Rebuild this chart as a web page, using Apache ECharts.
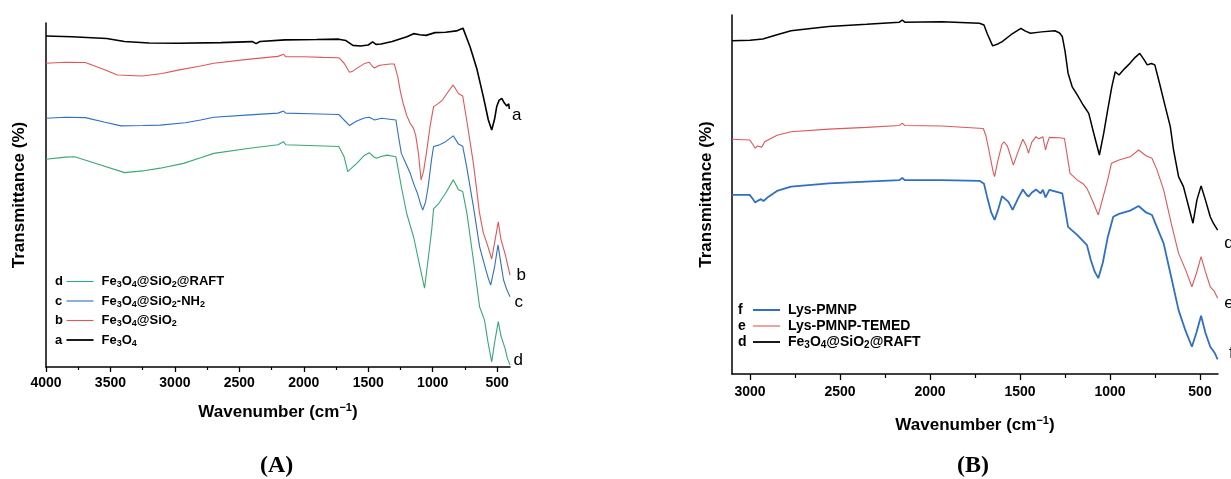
<!DOCTYPE html>
<html>
<head>
<meta charset="utf-8">
<script src="https://cdn.jsdelivr.net/npm/echarts@6/dist/echarts.min.js"></script>
<style>
html,body{margin:0;padding:0;background:#fff;}
#chart{width:1231px;height:479px;}
</style>
</head>
<body>
<div id="chart"></div>
<script>
// ---------- Panel A data (wavenumber cm-1, relative transmittance) ----------
const A_a_wn = [4000,3800,3529,3391,3200,2975,2643,2400,2370,2340,2145,1900,1729,1673,1619,1560,1500,1466,1440,1400,1314,1200,1148,1100,1051,982,900,816,765,710,658,607,568,542,520,503,485,464,445,425,410,405];
const A_a_t  = [96.2,96.0,95.5,94.6,94.2,94.1,94.3,94.6,94.0,94.6,95.1,95.2,95.3,94.9,93.5,93.3,93.6,94.5,93.8,93.9,94.6,96.0,96.9,96.6,96.4,97.2,97.3,97.7,98.5,93.1,86.8,78.6,71.8,68.9,72.0,75.7,77.5,78.1,76.8,75.9,76.5,75.0];

const A_b_wn = [4000,3850,3695,3550,3446,3252,3100,2975,2800,2698,2420,2200,2157,2140,2005,1850,1728,1687,1645,1620,1589,1530,1492,1470,1451,1420,1395,1330,1298,1271,1250,1229,1200,1174,1150,1132,1110,1090,1070,1049,1020,993,960,924,880,841,800,767,736,684,660,638,607,575,542,520,491,470,439,420,400];
const A_b_t  = [88.3,88.6,88.5,86.5,84.9,84.6,85.3,86.3,87.5,88.3,89.5,90.3,90.9,90.2,90.2,90.0,89.9,88.3,85.7,86.0,86.8,88.2,88.6,87.5,86.9,87.6,87.8,88.1,88.1,84.4,80.0,76.6,73.0,70.8,69.5,67.4,62.0,54.4,57.0,62.1,70.0,75.7,76.5,77.6,80.0,82.0,79.5,78.8,71.8,59.2,52.0,45.1,39.0,35.5,31.4,36.0,42.2,37.0,33.0,30.0,26.7];

const A_c_wn = [4000,3850,3695,3550,3418,3250,3114,2920,2800,2698,2420,2200,2157,2140,1950,1728,1687,1645,1620,1589,1530,1492,1470,1451,1420,1395,1285,1265,1243,1200,1174,1140,1118,1095,1077,1055,1035,1010,993,952,900,840,800,767,736,684,636,598,570,550,520,493,470,450,425,400];
const A_c_t  = [72.3,72.6,72.5,71.2,70.1,70.2,70.3,71.0,71.8,72.6,73.3,73.8,74.4,73.8,73.6,73.4,71.8,70.2,70.8,71.5,72.4,72.6,72.2,71.8,72.1,72.3,71.8,67.0,62.1,58.5,56.3,52.5,50.5,47.5,45.6,48.0,52.4,60.0,64.1,64.5,65.5,67.2,64.8,64.2,58.2,46.6,35.0,29.7,26.0,23.8,29.0,35.5,30.0,25.3,22.5,20.4];

const A_d_wn = [4000,3850,3778,3600,3390,3250,3114,2933,2800,2698,2420,2200,2157,2140,1900,1728,1687,1659,1630,1589,1530,1492,1460,1437,1400,1354,1285,1265,1243,1202,1146,1105,1063,1021,1007,993,952,900,840,800,767,736,684,636,598,570,542,520,491,470,439,420,400];
const A_d_t  = [60.4,61.0,61.1,59.0,56.5,57.0,57.8,59.2,60.8,62.1,63.6,64.6,65.5,64.6,64.3,64.1,61.1,56.8,57.8,59.2,61.5,62.3,61.2,60.7,61.2,61.6,61.1,57.0,52.4,44.7,37.5,30.2,22.9,35.6,40.0,46.0,47.6,50.5,54.4,51.5,51.0,45.1,31.1,17.5,13.7,7.0,1.5,7.0,13.2,9.0,5.5,2.5,0.6];

// ---------- Panel B data ----------
const B_d_wn = [3100,3000,2929,2850,2772,2650,2562,2353,2170,2154,2140,1934,1725,1700,1683,1652,1620,1599,1550,1495,1470,1442,1380,1306,1280,1265,1250,1233,1210,1181,1150,1118,1090,1059,1035,1013,990,971,950,920,888,860,835,810,793,770,751,720,702,665,647,619,592,563,539,517,494,470,443,426,402];
const B_d_t  = [92.8,93.0,93.3,94.5,95.6,96.3,96.8,97.4,98.0,98.6,98.0,98.1,97.7,97.2,94.9,91.4,92.0,92.6,94.5,96.3,95.5,94.9,95.3,95.6,95.0,94.0,90.0,83.8,80.0,77.7,75.0,72.6,67.0,61.0,67.0,73.5,80.0,84.2,83.3,85.0,86.6,88.2,89.3,87.5,86.1,86.5,86.1,80.0,76.3,68.9,62.4,55.0,52.2,46.6,42.0,48.5,52.4,48.5,43.8,42.0,40.1];

const B_e_wn = [3100,3002,2985,2971,2960,2950,2935,2918,2850,2772,2562,2353,2170,2154,2140,1934,1704,1690,1673,1650,1641,1625,1600,1589,1570,1537,1510,1484,1465,1453,1435,1411,1395,1386,1373,1365,1358,1350,1337,1280,1253,1235,1222,1181,1150,1128,1095,1065,1040,1013,992,950,888,841,800,767,740,702,660,619,580,545,520,494,470,443,420,402];
const B_e_t  = [65.4,65.2,64.0,62.9,63.5,63.8,63.2,64.7,66.5,67.5,68.2,68.7,69.2,69.9,69.2,69.1,68.4,66.5,62.4,56.5,55.0,59.0,64.0,64.7,63.5,58.2,62.0,65.4,63.5,61.5,64.5,66.1,65.5,65.2,66.1,64.0,62.4,64.0,65.9,65.8,65.6,60.0,55.9,54.0,53.0,51.7,48.0,44.3,49.0,54.0,58.7,59.6,60.5,62.4,60.8,60.1,57.0,51.3,42.0,33.6,29.0,24.3,28.0,32.7,28.5,24.3,23.0,21.1];

const B_f_wn = [3100,3002,2985,2971,2955,2939,2925,2897,2850,2772,2562,2353,2170,2154,2140,1934,1725,1700,1683,1660,1641,1620,1600,1589,1565,1541,1510,1484,1465,1453,1435,1411,1386,1373,1358,1337,1265,1250,1233,1181,1128,1107,1085,1065,1040,1013,982,950,888,841,800,767,740,702,660,619,580,545,520,494,470,443,420,402];
const B_f_t  = [49.9,49.9,48.8,47.8,48.3,48.7,48.2,49.4,51.0,52.2,53.1,53.6,54.0,54.6,54.0,54.0,53.8,53.0,49.4,45.0,42.9,46.0,49.5,49.9,48.0,45.7,49.0,51.4,50.0,49.4,50.5,51.4,50.3,51.3,49.2,51.3,50.3,46.0,41.0,38.7,35.9,31.8,28.5,26.7,31.0,38.0,43.8,44.6,45.5,46.8,45.0,44.3,41.0,36.4,27.0,17.8,12.0,7.6,11.5,16.2,11.5,7.6,6.0,4.1];

// ---------- tick values ----------
const ticksA = [4000,3500,3000,2500,2000,1500,1000,500];
const minorA = [3750,3250,2750,2250,1750,1250,750];
const ticksB = [3000,2500,2000,1500,1000,500];
const minorB = [2750,2250,1750,1250,750];

// ---------- legend labels ----------
const legendA = [
  {key:'A_d', letter:'d', label:'{n|Fe}{s|3}{n|O}{s|4}{n|@SiO}{s|2}{n|@RAFT}'},
  {key:'A_c', letter:'c', label:'{n|Fe}{s|3}{n|O}{s|4}{n|@SiO}{s|2}{n|-NH}{s|2}'},
  {key:'A_b', letter:'b', label:'{n|Fe}{s|3}{n|O}{s|4}{n|@SiO}{s|2}'},
  {key:'A_a', letter:'a', label:'{n|Fe}{s|3}{n|O}{s|4}'}
];
const legendB = [
  {key:'B_f', letter:'f', label:'{n|Lys-PMNP}'},
  {key:'B_e', letter:'e', label:'{n|Lys-PMNP-TEMED}'},
  {key:'B_d', letter:'d', label:'{n|Fe}{s|3}{n|O}{s|4}{n|@SiO}{s|2}{n|@RAFT}'}
];

const zip = (x, y) => x.map((v, i) => [v, y[i]]);
const FONT = 'Liberation Sans, Arial, sans-serif';

const chart = echarts.init(document.getElementById('chart'), null, {renderer: 'canvas'});

function xMain(grid, min, max, ticks, gap, margin, tickLen) {
  return {
    type: 'value', gridIndex: grid, min: min, max: max, inverse: true, position: 'bottom',
    axisLine: {show: true, onZero: false, lineStyle: {color: '#000', width: 1.5}},
    axisTick: {show: true, customValues: ticks, length: tickLen, lineStyle: {color: '#000', width: 1.3}},
    axisLabel: {show: true, customValues: ticks, formatter: (v) => String(v), color: '#000', fontWeight: 'bold', fontSize: 14, fontFamily: FONT, margin: margin},
    splitLine: {show: false},
    name: '{t|Wavenumber (cm}{p|\u22121}{t|)}',
    nameLocation: 'middle', nameGap: gap,
    nameTextStyle: {
      color: '#000', fontFamily: FONT, fontWeight: 'bold', fontSize: 17,
      rich: {
        t: {fontSize: 17, fontWeight: 'bold', fontFamily: FONT, color: '#000', lineHeight: 20},
        p: {fontSize: 11, fontWeight: 'bold', fontFamily: FONT, color: '#000', verticalAlign: 'top'}
      }
    }
  };
}
function xMinor(grid, min, max, ticks, tickLen) {
  return {
    type: 'value', gridIndex: grid, min: min, max: max, inverse: true, position: 'bottom',
    axisLine: {show: false, onZero: false},
    axisTick: {show: true, customValues: ticks, length: tickLen, lineStyle: {color: '#000', width: 1.2}},
    axisLabel: {show: false},
    splitLine: {show: false}
  };
}
function yAx(grid, gap) {
  return {
    type: 'value', gridIndex: grid, min: 0, max: 100, position: 'left',
    axisLine: {show: true, onZero: false, lineStyle: {color: '#000', width: 1.5}},
    axisTick: {show: false}, axisLabel: {show: false}, splitLine: {show: false},
    name: 'Transmittance (%)', nameLocation: 'middle', nameGap: gap, nameRotate: 90,
    nameTextStyle: {color: '#000', fontFamily: FONT, fontWeight: 'bold', fontSize: 17}
  };
}
function ser(name, xi, yi, data, color, width, endText, off) {
  return {
    name: name, type: 'line', xAxisIndex: xi, yAxisIndex: yi, data: data,
    symbol: 'none', showSymbol: false, animation: false,
    lineStyle: {color: color, width: width}, itemStyle: {color: color},
    clip: false,
    endLabel: {show: true, formatter: endText, color: '#000', fontFamily: FONT, fontSize: 17, distance: 4, offset: off}
  };
}

const RED = '#e0575a', BLUE = '#2f6fc4', GREEN = '#3aa874', BLACK = '#000';

const richLegend = (size) => ({
  n: {fontSize: size, fontWeight: 'bold', fontFamily: FONT, color: '#000', lineHeight: 16},
  s: {fontSize: size - 4, fontWeight: 'bold', fontFamily: FONT, color: '#000', verticalAlign: 'bottom'}
});
function legendItem(item, left, centerY, size, lineH) {
  return {
    data: [item.key], left: left, top: centerY - 8, padding: 0, itemWidth: 27, itemHeight: lineH,
    icon: 'rect',
    formatter: () => item.label,
    selectedMode: false,
    textStyle: {fontSize: size, fontWeight: 'bold', fontFamily: FONT, color: '#000', padding: [0, 0, 0, 3], rich: richLegend(size)}
  };
}
const rowsA = [283, 302.5, 322, 341.5];
const rowsB = [311, 327, 343];
const lineHA = [1.1, 1.1, 1.1, 1.8];
const lineHB = [2, 1.1, 1.8];
const legends = [];
const letters = [];
legendA.forEach((it, i) => {
  legends.push(legendItem(it, 66.5, rowsA[i], 13, lineHA[i]));
  letters.push({type: 'text', left: 55, top: rowsA[i] - 8, style: {text: it.letter, font: 'bold 13px ' + FONT, fill: '#000'}});
});
legendB.forEach((it, i) => {
  legends.push(legendItem(it, 753, rowsB[i], 14, lineHB[i]));
  letters.push({type: 'text', left: 738, top: rowsB[i] - 8, style: {text: it.letter, font: 'bold 14px ' + FONT, fill: '#000'}});
});

const option = {
  animation: false,
  backgroundColor: '#fff',
  grid: [
    {left: 46, top: 23, width: 464, height: 344},
    {left: 732, top: 15, width: 486, height: 359}
  ],
  xAxis: [
    xMain(0, 400, 4000, ticksA, 35, 9, 5),
    xMinor(0, 400, 4000, minorA, 3),
    xMain(1, 400, 3100, ticksB, 41, 11, 6),
    xMinor(1, 400, 3100, minorB, 4)
  ],
  yAxis: [yAx(0, 18), yAx(1, 17)],
  legend: legends,
  series: [
    ser('A_a', 0, 0, zip(A_a_wn, A_a_t), BLACK, 1.6, 'a', [16, 6]),
    ser('A_b', 0, 0, zip(A_b_wn, A_b_t), RED, 1.1, 'b', [20, 0]),
    ser('A_c', 0, 0, zip(A_c_wn, A_c_t), BLUE, 1.1, 'c', [17, 5]),
    ser('A_d', 0, 0, zip(A_d_wn, A_d_t), GREEN, 1.1, 'd', [17, -5]),
    ser('B_d', 2, 1, zip(B_d_wn, B_d_t), BLACK, 1.5, 'd', [20, 13]),
    ser('B_e', 2, 1, zip(B_e_wn, B_e_t), RED, 1.1, 'e', [20, 5]),
    ser('B_f', 2, 1, zip(B_f_wn, B_f_t), BLUE, 1.8, 'f', [20, -6])
  ],
  graphic: letters.concat([
    {type: 'text', left: 278 - 18, top: 454, style: {text: '(A)', font: 'bold 24px "Liberation Serif", "Times New Roman", serif', fill: '#000'}},
    {type: 'text', left: 975 - 18, top: 454, style: {text: '(B)', font: 'bold 24px "Liberation Serif", "Times New Roman", serif', fill: '#000'}}
  ])
};
chart.setOption(option);
</script>
</body>
</html>
